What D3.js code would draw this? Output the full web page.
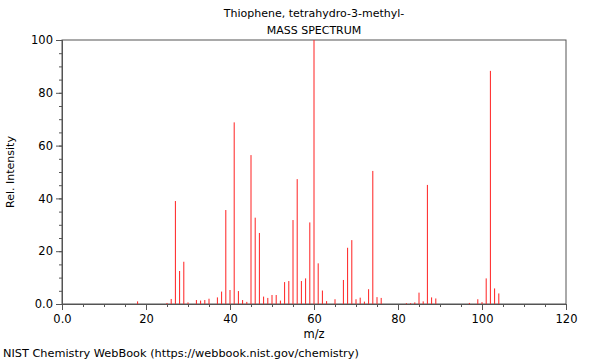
<!DOCTYPE html>
<html>
<head>
<meta charset="utf-8">
<script src="https://cdn.jsdelivr.net/npm/d3@7"></script>
<style>
body{margin:0;background:#fff;}
text{font-family:"DejaVu Sans",sans-serif;}
</style>
</head>
<body>
<svg id="graphique" width="600" height="360"></svg>
<script>
// pics du spectre (m/z, intensite relative)
var masses = [18,25,26,27,28,29,30,32,33,34,35,37,38,39,40,41,42,43,44,45,46,47,48,49,50,51,52,53,54,55,56,57,58,59,60,61,62,63,65,67,68,69,70,71,72,73,74,75,76,82,83,84,85,86,87,88,89,97,99,100,101,102,103,104];
var intensites = [1.0,0.4,1.9,39.0,12.5,16.0,0.6,1.5,1.3,1.5,2.0,2.5,4.7,35.6,5.3,68.8,4.9,1.5,0.8,56.4,32.7,26.9,2.8,2.3,3.4,3.4,1.3,8.3,8.7,31.8,47.3,8.7,9.7,30.9,100,15.4,5.1,1.1,1.8,9.1,21.3,24.2,1.8,2.4,0.9,5.6,50.4,2.6,2.3,0.3,0.3,0.6,4.3,1.0,45.1,2.5,2.1,0.4,1.8,0.7,9.7,88.3,5.9,4.0];
var xTicks = [0,20,40,60,80,100,120];
var yTicks = [0,20,40,60,80,100];

var graphique = d3.select("#graphique");
var MARGINS = {left: 62, right: 34, top: 40, bottom: 56};
var WIDTH = 600, HEIGHT = 360;

var xScale = d3.scaleLinear().domain([0,120]).range([MARGINS.left, WIDTH - MARGINS.right]);
var yScale = d3.scaleLinear().domain([0,100]).range([HEIGHT - MARGINS.bottom, MARGINS.top]);

function fmt(d){ return d == 0 ? "0.0" : d; }

// ticks mineurs
graphique.append("g")
	.attr("transform", "translate(0," + yScale(0) + ")")
	.call(d3.axisBottom(xScale).tickValues(d3.range(0,121,5)).tickSize(3).tickFormat(""));
graphique.append("g")
	.attr("transform", "translate(" + xScale(0) + ",0)")
	.call(d3.axisLeft(yScale).tickValues(d3.range(0,101,5)).tickSize(3).tickFormat(""));

// axes principaux
var xAxis = graphique.append("g")
	.attr("transform", "translate(0," + yScale(0) + ")")
	.call(d3.axisBottom(xScale).tickValues(xTicks).tickSize(6).tickFormat(fmt));
var yAxis = graphique.append("g")
	.attr("transform", "translate(" + xScale(0) + ",0)")
	.call(d3.axisLeft(yScale).tickValues(yTicks).tickSize(6).tickFormat(fmt));

graphique.selectAll(".domain").attr("stroke", "#555");
graphique.selectAll(".tick line").attr("stroke", "#555");
graphique.selectAll(".tick text").attr("font-size", 11.5).attr("fill", "#000");
xAxis.selectAll(".tick text").attr("dy", "0.9em");

// cadre
graphique.append("rect")
	.attr("x", xScale(0)).attr("y", yScale(100))
	.attr("width", xScale(120) - xScale(0)).attr("height", yScale(0) - yScale(100))
	.attr("fill", "none").attr("stroke", "#555").attr("stroke-width", 1);

// pics
graphique.append("g").selectAll("line")
	.data(masses)
	.enter().append("line")
	.attr("x1", function(d){ return xScale(d); })
	.attr("x2", function(d){ return xScale(d); })
	.attr("y1", yScale(0))
	.attr("y2", function(d, i){ return yScale(intensites[i]); })
	.attr("stroke", "#ff2020")
	.attr("stroke-width", 1);

// textes
graphique.append("text").attr("x", 314).attr("y", 17).attr("text-anchor", "middle")
	.attr("font-size", 11).text("Thiophene, tetrahydro-3-methyl-");
graphique.append("text").attr("x", 314).attr("y", 34).attr("text-anchor", "middle")
	.attr("font-size", 11).text("MASS SPECTRUM");
graphique.append("text").attr("x", 314).attr("y", 338).attr("text-anchor", "middle")
	.attr("font-size", 11.5).text("m/z");
graphique.append("text").attr("transform", "translate(14,172) rotate(-90)").attr("text-anchor", "middle")
	.attr("font-size", 11).text("Rel. Intensity");
graphique.append("text").attr("x", 3).attr("y", 357)
	.attr("font-size", 11.3).text("NIST Chemistry WebBook (https://webbook.nist.gov/chemistry)");
</script>
</body>
</html>
